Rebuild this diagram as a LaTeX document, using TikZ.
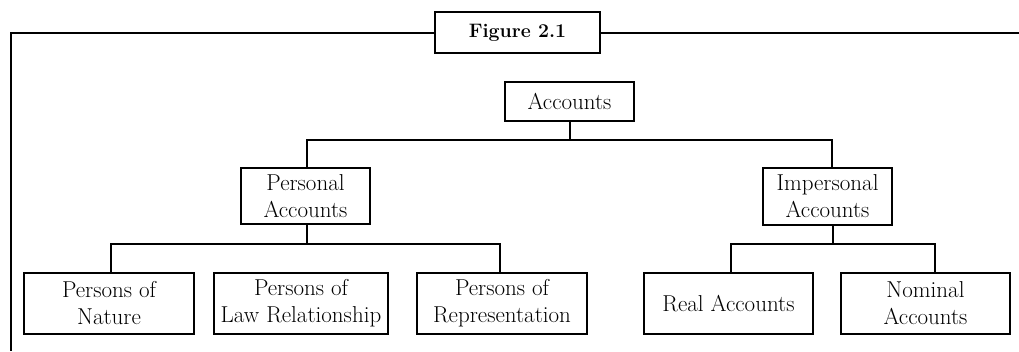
\documentclass[tikz,border=0pt]{standalone}
\begin{document}
\begin{tikzpicture}[x=1pt,y=-1pt,
  line width=2pt,
  box/.style={draw, rectangle, align=center, inner sep=0pt,
    font=\fontsize{23}{27}\selectfont},
  titlebox/.style={draw, rectangle, inner sep=0pt,
    font=\fontsize{19.5}{23}\selectfont\bfseries}]
\useasboundingbox (0,0) rectangle (1019,351);

% caption box and the open frame around the chart
\node[titlebox, minimum width=165pt, minimum height=41pt] (title) at (517.5,32.5) {Figure 2.1};
\coordinate (frameBL) at (11,351);
\coordinate (frameR) at (1019,32.5);
\draw (title.west) -| (frameBL);
\draw (title.east) -- (frameR);

% level 1
\node[box, minimum width=129pt, minimum height=39pt] (acc) at (569.5,101.5) {Accounts};

% level 2
\node[box, minimum width=129pt, minimum height=56pt] (pers) at (305.5,196) {Personal\\Accounts};
\node[box, minimum width=129pt, minimum height=57pt] (imp) at (827.5,196.5) {Impersonal\\Accounts};

% level 3
\node[box, minimum width=170pt, minimum height=61pt] (nat) at (109,303.5) {Persons of\\Nature};
\node[box, minimum width=174pt, minimum height=61pt] (law) at (301,303.5) {Persons of\\Law Relationship};
\node[box, minimum width=170pt, minimum height=61pt] (rep) at (502,303.5) {Persons of\\Representation};
\node[box, minimum width=169pt, minimum height=61pt] (real) at (728.5,303.5) {Real Accounts};
\node[box, minimum width=169pt, minimum height=61pt] (nom) at (925.5,303.5) {Nominal\\Accounts};

% connectors
\draw (acc.south) -- (acc.south |- 0,140);
\draw ([xshift=1.5pt]pers.north) |- ([xshift=4pt]imp.north |- 0,140) -- ([xshift=4pt]imp.north);

\draw ([xshift=1.5pt]pers.south) -- ([xshift=1.5pt]pers.south |- 0,244);
\draw ([xshift=2pt]nat.north) |- ([xshift=-2pt]rep.north |- 0,244) -- ([xshift=-2pt]rep.north);

\draw ([xshift=5pt]imp.south) -- ([xshift=5pt]imp.south |- 0,244);
\draw ([xshift=2.5pt]real.north) |- ([xshift=9.5pt]nom.north |- 0,244) -- ([xshift=9.5pt]nom.north);
\end{tikzpicture}
\end{document}
